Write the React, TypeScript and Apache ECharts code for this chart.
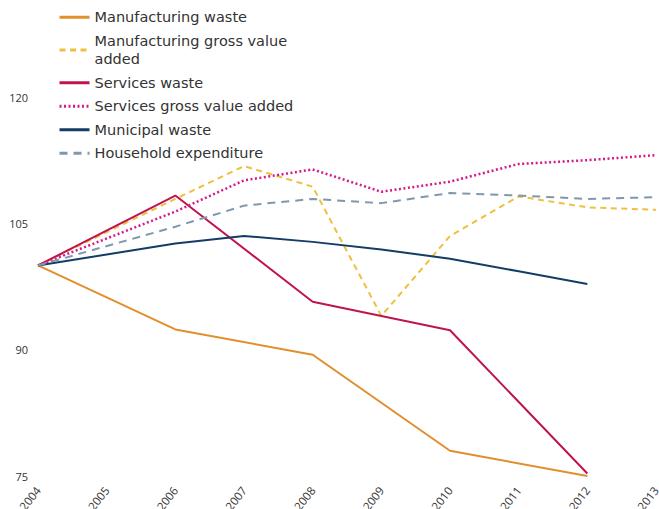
import React, { useEffect, useRef } from "react";
import * as echarts from "echarts";

const years = ["2004", "2005", "2006", "2007", "2008", "2009", "2010", "2011", "2012", "2013"];

const manufacturingWaste = [100, null, 92.4, null, 89.4, null, 78.0, null, 75.0, null];
const manufacturingGVA = [100, null, 107.9, 111.8, 109.35, 94.0, 103.5, 108.2, 106.9, 106.6];
const servicesWaste = [100, null, 108.3, null, 95.7, 94.0, 92.3, null, 75.3, null];
const servicesGVA = [100, null, 106.4, 110.1, 111.4, 108.75, 109.95, 112.05, 112.5, 113.1];
const municipalWaste = [100, null, 102.6, 103.5, 102.8, 101.9, 100.8, 99.3, 97.8, null];
const householdExpenditure = [100, null, 104.6, 107.1, 107.9, 107.4, 108.6, 108.3, 107.9, 108.1];

const yTicks = { min: 75, max: 130, interval: 15 };

export default function App() {
  const ref = useRef<HTMLDivElement>(null);
  useEffect(() => {
    document.body.style.margin = "0";
    if (!ref.current) return;
    const chart = echarts.init(ref.current, undefined, { renderer: "svg" });
    const mk = (name: string, data: (number | null)[], color: string, type: any, width = 2) => ({
      name,
      type: "line",
      data,
      connectNulls: true,
      symbol: "none",
      showSymbol: false,
      lineStyle: { color, width, type },
      itemStyle: { color },
    });
    chart.setOption({
      animation: false,
      grid: {
        left: 38,
        right: 3,
        top: 12.8,
        bottom: 33,
        containLabel: false,
        outerBoundsMode: "none",
      },
      legend: {
        orient: "vertical",
        left: 58,
        top: 8,
        padding: 0,
        itemGap: 5,
        itemWidth: 30,
        itemHeight: 14,
        itemStyle: { opacity: 0 },
        lineStyle: { width: 3 },
        textStyle: {
          fontFamily: "DejaVu Sans",
          fontSize: 14.5,
          color: "#333",
          lineHeight: 18.5,
        },
        formatter: (n: string) =>
          n === "Manufacturing gross value added" ? "Manufacturing gross value\nadded" : n,
      },
      xAxis: {
        type: "category",
        data: years,
        boundaryGap: false,
        axisLine: { show: false },
        axisTick: { show: false },
        axisLabel: {
          rotate: 52,
          fontSize: 11.5,
          fontFamily: "Open Sans",
          color: "#333",
          margin: 12,
          interval: 0,
        },
        splitLine: { show: false },
      },
      yAxis: {
        type: "value",
        min: yTicks.min,
        max: yTicks.max,
        interval: yTicks.interval,
        axisLine: { show: false },
        axisTick: { show: false },
        splitLine: { show: false },
        axisLabel: {
          showMaxLabel: false,
          fontSize: 11,
          fontFamily: "Open Sans",
          color: "#333",
          margin: 10,
        },
      },
      series: [
        mk("Manufacturing waste", manufacturingWaste, "#e08f2c", "solid"),
        mk("Manufacturing gross value added", manufacturingGVA, "#efbf3f", [6, 4.5]),
        mk("Services waste", servicesWaste, "#bf144e", "solid"),
        mk("Services gross value added", servicesGVA, "#d41a8a", [2, 2.5], 2.5),
        mk("Municipal waste", municipalWaste, "#133c66", "solid"),
        mk("Household expenditure", householdExpenditure, "#7f98ad", [8, 6]),
      ],
    });
    return () => chart.dispose();
  }, []);
  return <div ref={ref} style={{ width: 659, height: 509 }} />;
}
